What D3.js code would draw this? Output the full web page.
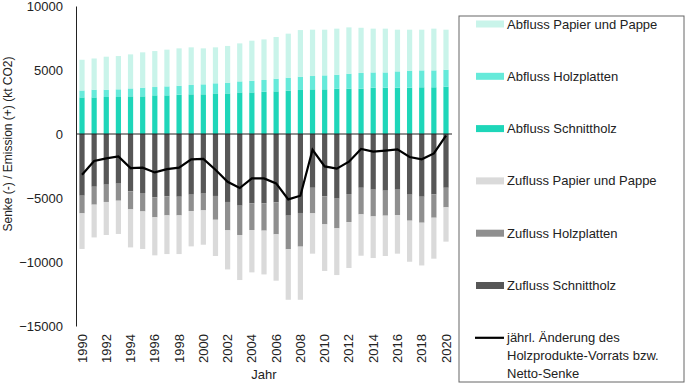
<!DOCTYPE html>
<html>
<head>
<meta charset="utf-8">
<title>Holzprodukte</title>
<style>
  body { margin: 0; background: #fff; }
  svg { font-family: "Liberation Sans", Arial, sans-serif; }
  .tick text { fill: #222; }
</style>
</head>
<body>
<div id="chart"></div>
<script src="https://cdn.jsdelivr.net/npm/d3@7/dist/d3.min.js"></script>
<script>
// Jahre
const years = d3.range(1990, 2021);

// Abfluss (positiv), kt CO2
const abflussSchnittholz = [2860,2860,2890,2890,2940,2940,3020,3020,3070,3100,3100,3170,3170,3250,3250,3300,3330,3380,3440,3490,3490,3540,3540,3540,3620,3620,3620,3620,3650,3650,3700];
const abflussHolzplatten = [540,600,570,600,620,680,650,700,700,730,780,790,840,860,910,920,990,1020,1040,1040,1090,1090,1170,1230,1190,1190,1270,1330,1320,1320,1320];
const abflussPapier = [2400,2440,2580,2600,2660,2760,2810,2870,2920,2940,2810,2810,2870,2970,3130,3170,3260,3440,3640,3620,3570,3600,3620,3530,3420,3420,3260,3200,3180,3260,3130];

// Zufluss (negativ), kt CO2
const zuflussSchnittholz = [-4820,-4120,-3960,-3880,-4480,-4610,-4950,-4870,-4900,-4740,-4660,-4840,-5310,-5600,-5420,-5420,-5340,-6380,-6170,-4200,-4870,-5050,-4690,-4200,-4350,-4430,-4350,-4740,-4900,-4720,-4200];
const zuflussHolzplatten = [-1380,-1400,-1350,-1330,-1410,-1440,-1560,-1490,-1460,-1280,-1310,-1860,-2220,-2290,-2080,-2130,-2500,-2630,-2630,-2000,-2190,-2320,-2190,-2080,-2090,-1950,-1980,-2030,-2030,-1820,-1530];
const zuflussPapier = [-2780,-2560,-2580,-2600,-2970,-2930,-2970,-3020,-3020,-2760,-2680,-2830,-3050,-3520,-3310,-3420,-3620,-3940,-4150,-3150,-3640,-3650,-3590,-3230,-3250,-3150,-3020,-3210,-3340,-3200,-2680];

// jährl. Änderung des Vorrats (Netto-Senke)
const netto = [-3180,-2110,-1900,-1750,-2660,-2630,-3000,-2740,-2630,-1980,-1950,-2790,-3730,-4220,-3470,-3470,-3860,-5110,-4820,-1230,-2530,-2710,-2160,-1170,-1380,-1300,-1200,-1800,-1980,-1520,-130];

const yTicks = [10000, 5000, 0, -5000, -10000, -15000];
const xTickYears = years.filter(y => y % 2 === 0);

const series = [
  {name: "Abfluss Papier und Pappe", color: "#c9f4ea", values: abflussPapier, side: "pos", order: 2},
  {name: "Abfluss Holzplatten", color: "#66eada", values: abflussHolzplatten, side: "pos", order: 1},
  {name: "Abfluss Schnittholz", color: "#1ed6b9", values: abflussSchnittholz, side: "pos", order: 0},
  {name: "Zufluss Papier und Pappe", color: "#dadada", values: zuflussPapier, side: "neg", order: 2},
  {name: "Zufluss Holzplatten", color: "#8f8f8f", values: zuflussHolzplatten, side: "neg", order: 1},
  {name: "Zufluss Schnittholz", color: "#575757", values: zuflussSchnittholz, side: "neg", order: 0}
];

const width = 685, height = 385;
const svg = d3.select("#chart").append("svg")
  .attr("width", width)
  .attr("height", height);

const x = d3.scaleBand()
  .domain(years)
  .range([76, 452])
  .paddingInner(0.57)
  .paddingOuter(0.28);

const y = d3.scaleLinear()
  .domain([-15000, 10000])
  .range([326, 6]);

// stacked bars
["pos", "neg"].forEach(side => {
  const s = series.filter(d => d.side === side).sort((a, b) => a.order - b.order);
  years.forEach((yr, i) => {
    let base = 0;
    s.forEach(ser => {
      const v = ser.values[i];
      const top = base + v;
      svg.append("rect")
        .attr("x", x(yr))
        .attr("width", x.bandwidth())
        .attr("y", y(Math.max(base, top)))
        .attr("height", Math.abs(y(base) - y(top)))
        .attr("fill", ser.color);
      base = top;
    });
  });
});

// axes
const yAxis = d3.axisLeft(y).tickValues(yTicks).tickSize(0).tickPadding(13).tickFormat(d3.format("d"));
const gY = svg.append("g").attr("transform", "translate(76,0)").call(yAxis);
gY.select(".domain").attr("stroke", "#222").attr("stroke-width", 1);
gY.selectAll("text").style("font-size", "13px");

svg.append("line")
  .attr("x1", 76).attr("x2", 452)
  .attr("y1", y(0)).attr("y2", y(0))
  .attr("stroke", "#222").attr("stroke-width", 1);

// x labels at bottom
const gX = svg.append("g").attr("transform", "translate(0,326)")
  .call(d3.axisBottom(x).tickValues(xTickYears).tickSize(0).tickPadding(0));
gX.select(".domain").remove();
gX.selectAll("text")
  .style("font-size", "13px")
  .attr("text-anchor", "end")
  .attr("transform", "rotate(-90)")
  .attr("x", -8)
  .attr("y", 0)
  .attr("dy", "0.35em");

// net line
const line = d3.line()
  .x((d, i) => x(years[i]) + x.bandwidth() / 2)
  .y(d => y(d));
svg.append("path")
  .datum(netto)
  .attr("d", line)
  .attr("fill", "none")
  .attr("stroke", "#000")
  .attr("stroke-width", 2.2);

// axis titles
svg.append("text")
  .attr("transform", "translate(12,144) rotate(-90)")
  .attr("text-anchor", "middle")
  .style("font-size", "12px")
  .attr("fill", "#222")
  .text("Senke (-) / Emission (+) (kt CO2)");

svg.append("text")
  .attr("x", 264).attr("y", 379)
  .attr("text-anchor", "middle")
  .style("font-size", "13px")
  .attr("fill", "#222")
  .text("Jahr");

// legend
const lg = svg.append("g");
lg.append("rect")
  .attr("x", 459).attr("y", 16)
  .attr("width", 225).attr("height", 366)
  .attr("fill", "#fff").attr("stroke", "#666").attr("stroke-width", 1);

series.forEach((ser, i) => {
  const cy = 24 + i * 52.3;
  lg.append("rect")
    .attr("x", 476).attr("y", cy - 3.5)
    .attr("width", 28).attr("height", 7)
    .attr("fill", ser.color);
  lg.append("text")
    .attr("x", 507).attr("y", cy)
    .attr("dy", "0.35em")
    .style("font-size", "13px")
    .attr("fill", "#222")
    .text(ser.name);
});

const ly = 24 + 6 * 52.3;
lg.append("line")
  .attr("x1", 475).attr("x2", 504)
  .attr("y1", ly).attr("y2", ly)
  .attr("stroke", "#000").attr("stroke-width", 2.2);
["jährl. Änderung des", "Holzprodukte-Vorrats bzw.", "Netto-Senke"].forEach((t, i) => {
  lg.append("text")
    .attr("x", 507).attr("y", ly + i * 17.8)
    .attr("dy", "0.35em")
    .style("font-size", "13px")
    .attr("fill", "#222")
    .text(t);
});
</script>
</body>
</html>
